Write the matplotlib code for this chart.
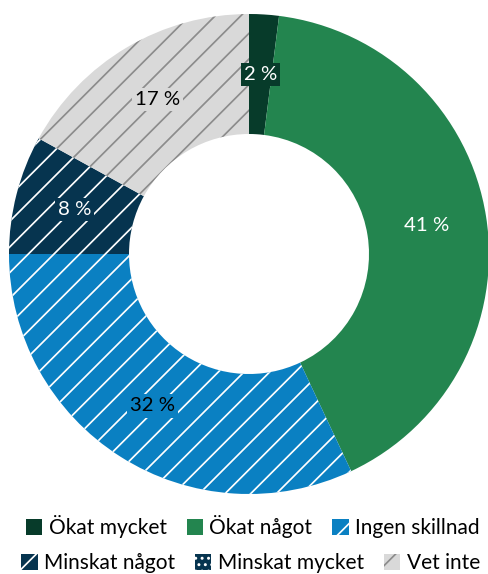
import numpy as np
import matplotlib
matplotlib.use("Agg")
import matplotlib.pyplot as plt
from matplotlib.patches import Patch

categories = ["Ökat mycket", "Ökat något", "Ingen skillnad",
              "Minskat något", "Minskat mycket", "Vet inte"]
values = [2, 41, 32, 8, 0, 17]
label_texts = ["2 %", "41 %", "32 %", "8 %", "", "17 %"]

colors = ["#073b2a", "#23854f", "#0a80c2", "#06344f", "#06344f", "#d9d9d9"]
hatches = [None, None, "/", "/", "..", "/"]
hatch_colors = ["#073b2a", "#23854f", "#ffffff", "#ffffff", "#ffffff", "#8c8c8c"]
text_colors = ["#ffffff", "#ffffff", "#000000", "#ffffff", "#ffffff", "#000000"]
boxed = [True, False, True, True, True, True]

DPI = 77
W, H = 488, 574
plt.rcParams["font.family"] = ["Lato", "DejaVu Sans"]
plt.rcParams["hatch.linewidth"] = 1.6

fig = plt.figure(figsize=(W / DPI, H / DPI), dpi=DPI)
R = 240
cx, cy = 249, 254
ax = fig.add_axes([(cx - R) / W, (H - cy - R) / H, 2 * R / W, 2 * R / H])

wedges, _ = ax.pie(values, startangle=90, counterclock=False, radius=1,
                   colors=colors, wedgeprops=dict(width=0.5, linewidth=0))
ax.set_xlim(-1, 1)
ax.set_ylim(-1, 1)
ax.axis("off")
for w, h, hc in zip(wedges, hatches, hatch_colors):
    if h:
        w.set_hatch(h)
        w.set_edgecolor(hc)
        w.set_linewidth(0)

for w, txt, tc, bx, col in zip(wedges, label_texts, text_colors, boxed, colors):
    if not txt:
        continue
    ang = np.deg2rad((w.theta1 + w.theta2) / 2)
    r = 0.75
    bbox = dict(boxstyle="square,pad=0.15", fc=col, ec="none") if bx else None
    ax.text(r * np.cos(ang), r * np.sin(ang), txt, ha="center", va="center",
            fontsize=19, color=tc, bbox=bbox)

def handle(i):
    return Patch(facecolor=colors[i], edgecolor=hatch_colors[i],
                 hatch=hatches[i], linewidth=0)

leg_kw = dict(frameon=False, fontsize=19.5, handlelength=0.8, handleheight=0.8,
              handletextpad=0.3, columnspacing=0.95, borderaxespad=0, ncol=3,
              loc="center")
leg1 = fig.legend([handle(i) for i in range(3)], categories[:3],
                  bbox_to_anchor=(0.518, 1 - 527 / H), **leg_kw)
leg2 = fig.legend([handle(i) for i in range(3, 6)], categories[3:],
                  bbox_to_anchor=(0.513, 1 - 563 / H), **leg_kw)

fig.savefig("out.png", dpi=DPI)
